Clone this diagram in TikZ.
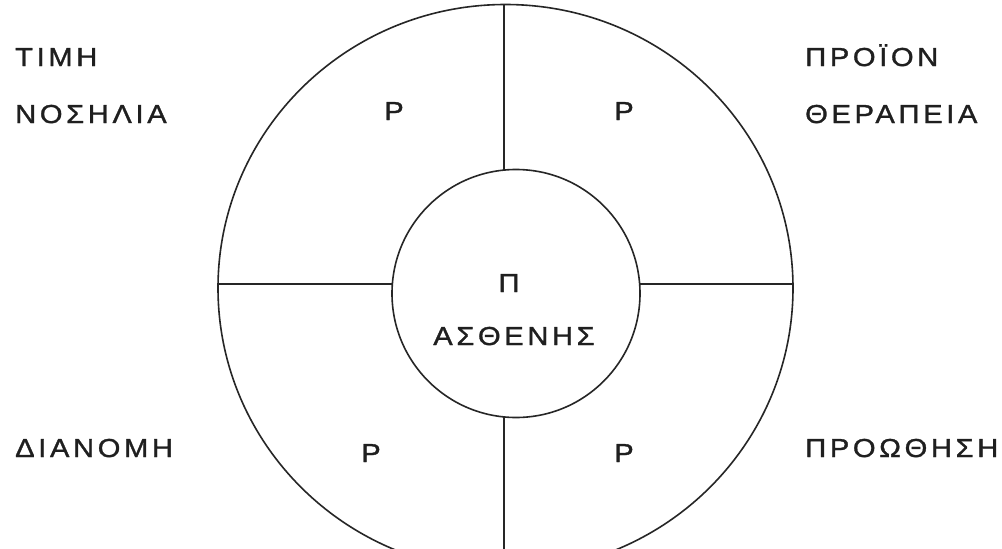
\documentclass[tikz,border=0pt]{standalone}
\usepackage{fontspec}
\setmainfont{Liberation Sans}[LetterSpace=14,FakeStretch=1.12,FakeBold=1.2]
\begin{document}
\begin{tikzpicture}[x=1pt,y=-1pt,
  ring/.style={draw=black!85,line width=1.6pt},
  divider/.style={draw=black!85,line width=1.6pt},
  lbl/.style={inner sep=0pt,font=\fontsize{26}{30}\selectfont,text=black!88,anchor=base},
  sidelbl/.style={lbl,anchor=base west,align=left}]
\useasboundingbox (0,0) rectangle (1002,549);
\clip (0,0) rectangle (1002,549);
\fill[white] (0,0) rectangle (1002,549);
% rings
\draw[ring] (505.5,288) ellipse [x radius=287.5, y radius=283.5];
\draw[ring] (516,293.5) circle [radius=124];
% meeting points
\coordinate (ot) at (504,4.5);
\coordinate (it) at (504,170);
\coordinate (ib) at (504,417);
\coordinate (ob) at (504,560);
\coordinate (ol) at (218,284);
\coordinate (il) at (392.4,284);
\coordinate (ir) at (639.6,284);
\coordinate (or) at (793,284);
\draw[divider] (ot) -- (it);
\draw[divider] (ib) -- (ob);
\draw[divider] (ol) -- (il);
\draw[divider] (ir) -- (or);
% quadrant letters
\node[lbl] (p1) at (394,120) {Ρ};
\node[lbl] (p2) at (624,120) {Ρ};
\node[lbl] (p3) at (371,462) {Ρ};
\node[lbl] (p4) at (624,462) {Ρ};
% centre
\node[lbl] (pi) at (509,292) {Π};
\node[lbl] (as) at (514,345) {ΑΣΘΕΝΗΣ};
% side labels
\node[sidelbl] (l1) at (15,66) {ΤΙΜΗ};
\node[sidelbl] (l2) at (15,123) {ΝΟΣΗΛΙΑ};
\node[sidelbl] (r1) at (805,66) {ΠΡΟΪΟΝ};
\node[sidelbl] (r2) at (805,123) {ΘΕΡΑΠΕΙΑ};
\node[sidelbl] (l3) at (15,457) {ΔΙΑΝΟΜΗ};
\node[sidelbl] (r3) at (805,457) {ΠΡΟΩΘΗΣΗ};
\end{tikzpicture}
\end{document}
